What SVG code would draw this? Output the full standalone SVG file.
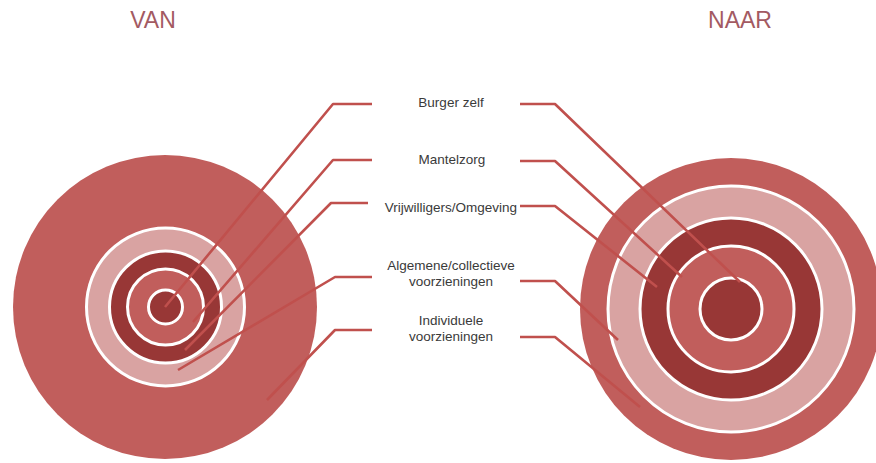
<svg xmlns="http://www.w3.org/2000/svg" width="876" height="463" viewBox="0 0 876 463">
<style>
.title{font-family:"Liberation Sans",Arial,sans-serif;font-size:23px;fill:#a35a62;text-anchor:middle}
.lbl{font-family:"Liberation Sans",Arial,sans-serif;font-size:13.5px;fill:#3a3a3a;text-anchor:middle}
.med{fill:#c15e5c}
.pink{fill:#d9a3a2;stroke:#fff;stroke-width:3}
.dark{fill:#983736;stroke:#fff;stroke-width:3}
.medr{fill:#c15e5c;stroke:#fff;stroke-width:3}
.conn{fill:none;stroke:#c0504d;stroke-width:2.6;stroke-linejoin:round}
</style>
<rect width="876" height="463" fill="#fff"/>
<text class="title" x="153" y="28">VAN</text>
<text class="title" x="740" y="28">NAAR</text>
<g id="van">
<circle class="med" cx="165" cy="307" r="152"/>
<circle class="pink" cx="165.5" cy="307" r="79"/>
<circle class="dark" cx="165.5" cy="307" r="56"/>
<circle class="medr" cx="165.5" cy="307" r="38"/>
<circle class="dark" cx="165.5" cy="307" r="17"/>
</g>
<g id="naar">
<circle class="med" cx="731" cy="309" r="151"/>
<circle class="pink" cx="731" cy="309" r="123"/>
<circle class="dark" cx="731" cy="309" r="91"/>
<circle class="medr" cx="731" cy="309" r="63"/>
<circle class="dark" cx="731" cy="309" r="31"/>
</g>
<g id="connectors">
<polyline class="conn" points="372,104 333,104 165,307"/>
<polyline class="conn" points="372,160 333,160 193,322"/>
<polyline class="conn" points="368,203 331,203 185,350"/>
<polyline class="conn" points="372,277 335,277 178,370"/>
<polyline class="conn" points="372,330 335,330 267,400"/>
<polyline class="conn" points="520,104 555,104 740,282"/>
<polyline class="conn" points="520,161 555,161 682,277"/>
<polyline class="conn" points="520,206 555,206 657,287"/>
<polyline class="conn" points="520,281 555,281 618,340"/>
<polyline class="conn" points="520,337 555,337 640,407"/>
</g>
<g id="burger"><text class="lbl" x="451" y="107">Burger zelf</text></g>
<g id="mantelzorg"><text class="lbl" x="452" y="164">Mantelzorg</text></g>
<g id="vrijwilligers"><text class="lbl" x="451" y="212">Vrijwilligers/Omgeving</text></g>
<g id="algemene"><text class="lbl" x="451" y="270">Algemene/collectieve</text><text class="lbl" x="451" y="286">voorzieningen</text></g>
<g id="individuele"><text class="lbl" x="451" y="325">Individuele</text><text class="lbl" x="451" y="341">voorzieningen</text></g>
</svg>
